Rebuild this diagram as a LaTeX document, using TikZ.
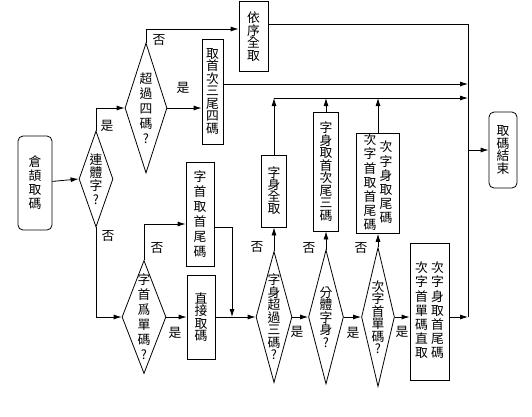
\documentclass[tikz,border=0pt]{standalone}
\usepackage{fontspec}
\newfontfamily\cjk{Noto Sans CJK TC}
\usetikzlibrary{shapes.geometric, arrows.meta}

\newcommand{\coluna}[1]{\begin{tabular}{@{}c@{}}#1\end{tabular}}

\begin{document}
\begin{tikzpicture}[
    x=1pt, y=-1pt,
    line width=0.8pt,
    every node/.style={font=\cjk\fontsize{12.8}{12.5}\selectfont, align=center, inner sep=0pt},
    passo/.style={font=\cjk\fontsize{12.8}{#1}\selectfont},
    caixa/.style args={#1x#2}{draw, rectangle, minimum width=#1pt, minimum height=#2pt},
    inicio/.style args={#1x#2}{draw, rectangle, rounded corners=5pt, minimum width=#1pt, minimum height=#2pt},
    losango/.style args={#1x#2}{draw, diamond, minimum width=#1pt, minimum height=#2pt},
    seta/.style={-{Latex[length=8pt, width=5pt]}}
]
    \useasboundingbox (0,0) rectangle (532,416);

    % 1. Coordenadas principais (linha de retorno e linha coletora)
    \coordinate (T) at (468,24);
    \coordinate (B) at (468,317);
    \coordinate (L) at (274,98);
    \coordinate (M) at (232,317);

    % 2. Início e fim
    \node[inicio=34x94, passo=14] (ini) at (35,183) {倉\\頡\\取\\碼};
    \node[inicio=28x76] (fim) at (503,150) {取\\碼\\結\\束};

    % 3. Decisões (losangos) e seus textos
    \node[losango=34x96] (q1) at (96,179) {};
    \node[passo=13.3] (q1t) at (q1) {連\\體\\字\\?};
    \node[losango=42x130] (q2) at (146,108) {};
    \node[passo=15] (q2t) at (q2) {超\\過\\四\\碼\\?};
    \node[losango=44x113] (q3) at (144,317) {};
    \node[passo=15] (q3t) at (q3) {字\\首\\爲\\單\\碼\\?};
    \node[losango=36x131] (q4) at (274,317) {};
    \node (q4t) at (q4) {字\\身\\超\\過\\三\\碼\\?};
    \node[losango=35x134] (q5) at (326,317) {};
    \node (q5t) at (q5) {分\\體\\字\\身\\?};
    \node[losango=33x139] (q6) at (378,317) {};
    \node (q6t) at (q6) {次\\字\\首\\單\\碼\\?};

    % 4. Caixas de ação
    \node[caixa=29x70] (r1) at (253.5,36.5) {依\\序\\全\\取};
    \node[caixa=21x105] (r2) at (212.5,91.5) {取\\首\\次\\三\\尾\\四\\碼};
    \node[caixa=28x104, passo=15] (r3) at (200,214) {字\\首\\取\\首\\尾\\碼};
    \node[caixa=28x84] (r4) at (201,317) {直\\接\\取\\碼};
    \node[caixa=25x72, passo=12] (r5) at (274,191) {字\\身\\全\\取};
    \node[caixa=25x119] (r6) at (326,171.5) {字\\身\\取\\首\\次\\尾\\三\\碼};
    \node[caixa=43x97] (r7) at (378,183.5)
        {\coluna{次\\字\\首\\取\\首\\尾\\碼}\hspace{3pt}\coluna{次\\字\\身\\取\\尾\\碼}};
    \node[caixa=39x137] (r8) at (429.5,311.5)
        {\coluna{次\\字\\首\\單\\碼\\直\\取}\hspace{3pt}\coluna{次\\字\\身\\取\\首\\尾\\碼}};

    % 5. Ligações da parte de cima
    \draw[seta] (ini) -- (q1.west);
    \draw[seta] (q1.north) |- (q2.west);
    \draw[seta] (q2.north) |- ([yshift=7.5pt]r1.west);
    \draw[seta] (q2.east) -- (q2.east -| r2.west);
    \draw ([yshift=12.5pt]r1.east) -- (T) -- (B);
    \draw[seta] ([yshift=7.5pt]r2.east) coordinate (K) -- (K -| T);
    \draw[seta] (L) -- (L -| T);
    \draw[seta] (fim.west -| T) -- (fim.west);

    % 6. Ligações da parte de baixo
    \draw[seta] (q1.south) |- (q3.west);
    \draw[seta] (q3.north) |- ([yshift=-10pt]r3.west);
    \draw[seta] (q3.east) -- (r4.west);
    \draw[seta] ([yshift=-13pt]r3.east) -| (M);
    \draw[seta] (r4.east) -- (q4.west);
    \draw[seta] (q4.east) -- (q5.west);
    \draw[seta] (q5.east) -- (q6.west);
    \draw[seta] (q6.east) -- (q6.east -| r8.west);
    \draw[seta] (r8.east |- B) -- (B);

    % 7. Subidas até a linha coletora
    \draw[seta] (q4.north) -- (r5.south);
    \draw[seta] (q5.north) -- (r6.south);
    \draw[seta] (q6.north) -- (r7.south);
    \draw[seta] (r5.north) -- (r5.north |- L);
    \draw[seta] (r6.north) -- (r6.north |- L);
    \draw[seta] (r7.north) -- (r7.north |- L);

    % 8. Rótulos sim / não
    \node (s1) at (107,126) {是};
    \node (n1) at (159,40) {否};
    \node (s2) at (183,88) {是};
    \node (n2) at (108,236) {否};
    \node (n3) at (157,248) {否};
    \node (s3) at (175,333) {是};
    \node (n4) at (257,247) {否};
    \node (s4) at (297,332) {是};
    \node (n5) at (309,248) {否};
    \node (s5) at (353,333) {是};
    \node (n6) at (361,248) {否};
    \node (s6) at (402,332) {是};

\end{tikzpicture}
\end{document}
